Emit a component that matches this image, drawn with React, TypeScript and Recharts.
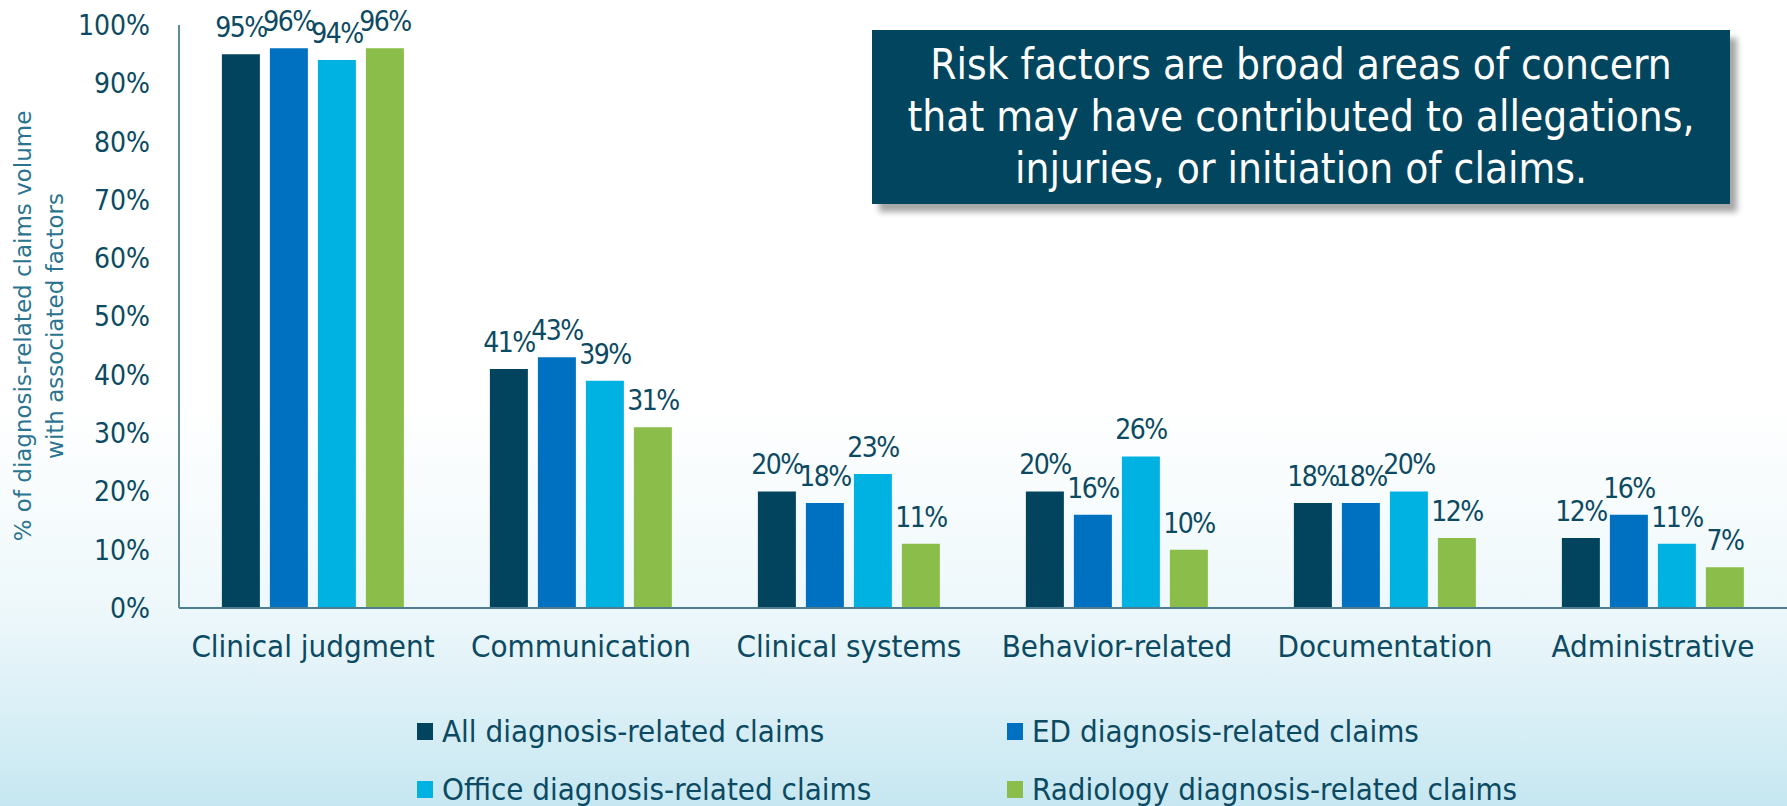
import { BarChart, Bar, XAxis, YAxis, LabelList } from "recharts";

const CATEGORIES = [
  "Clinical judgment",
  "Communication",
  "Clinical systems",
  "Behavior-related",
  "Documentation",
  "Administrative",
];

const ALL_CLAIMS = [95, 41, 20, 20, 18, 12];
const ED_CLAIMS = [96, 43, 18, 16, 18, 16];
const OFFICE_CLAIMS = [94, 39, 23, 26, 20, 11];
const RADIOLOGY_CLAIMS = [96, 31, 11, 10, 12, 7];

const Y_TICKS = [0, 10, 20, 30, 40, 50, 60, 70, 80, 90, 100];

const SERIES = [
  { key: "all", name: "All diagnosis-related claims", color: "#02445D", values: ALL_CLAIMS },
  { key: "ed", name: "ED diagnosis-related claims", color: "#0071C1", values: ED_CLAIMS },
  { key: "office", name: "Office diagnosis-related claims", color: "#00B2E2", values: OFFICE_CLAIMS },
  { key: "radiology", name: "Radiology diagnosis-related claims", color: "#8BBD4A", values: RADIOLOGY_CLAIMS },
];

const CALLOUT = [
  "Risk factors are broad areas of concern",
  "that may have contributed to allegations,",
  "injuries, or initiation of claims.",
];

const data = CATEGORIES.map((name, i) => {
  const row: Record<string, string | number> = { name };
  SERIES.forEach((s) => (row[s.key] = s.values[i]));
  return row;
});

const FONT = "'DejaVu Sans Condensed', 'DejaVu Sans', sans-serif";
const TEXT = "#0B4A62";

// two-line rotated axis title
const YTitle = () => (
  <g fontSize={23} fontFamily="'DejaVu Sans', sans-serif" fill="#2B7490">
    <text transform="translate(23, 326) rotate(-90)" textAnchor="middle" dominantBaseline="central">
      % of diagnosis-related claims volume
    </text>
    <text transform="translate(55, 326) rotate(-90)" textAnchor="middle" dominantBaseline="central">
      with associated factors
    </text>
  </g>
);

export default function App() {
  return (
    <div
      style={{
        position: "fixed",
        left: 0,
        top: 0,
        width: 1787,
        height: 806,
        overflow: "hidden",
        fontFamily: FONT,
        background:
          "linear-gradient(to bottom, #ffffff 0%, #ffffff 50%, #eef8fb 75%, #dcf0f7 87%, #c6e7f1 100%)",
      }}
    >
      <BarChart
        width={1787}
        height={806}
        data={data}
        margin={{ top: 25, right: 0, bottom: 138, left: 0 }}
        barCategoryGap="16%"
        barGap={10}
      >
        <XAxis
          dataKey="name"
          height={60}
          axisLine={{ stroke: "#4F7D90", strokeWidth: 2 }}
          tickLine={false}
          tickSize={0}
          tickMargin={27}
          tick={{ fill: TEXT, fontSize: 31, fontFamily: FONT }}
        />
        <YAxis
          width={179}
          domain={[0, 100]}
          ticks={Y_TICKS}
          tickFormatter={(v: number) => `${v}%`}
          axisLine={{ stroke: "#5F8A9B", strokeWidth: 2 }}
          tickLine={false}
          tickSize={0}
          tickMargin={29}
          tick={{ fill: TEXT, fontSize: 28, fontFamily: FONT }}
          label={{ content: () => <YTitle /> }}
        />
        {SERIES.map((s) => (
          <Bar key={s.key} dataKey={s.key} name={s.name} fill={s.color} isAnimationActive={false}>
            <LabelList
              dataKey={s.key}
              position="top"
              offset={17}
              formatter={(v: number) => `${v}%`}
              style={{ fill: TEXT, fontSize: 28, fontFamily: FONT, letterSpacing: -1.5 }}
            />
          </Bar>
        ))}
      </BarChart>

      <div
        style={{
          position: "absolute",
          left: 872,
          top: 30,
          width: 858,
          height: 174,
          background: "#02455E",
          boxShadow: "7px 8px 6px rgba(0,0,0,0.35)",
          color: "#ffffff",
          fontSize: 42,
          lineHeight: "52px",
          textAlign: "center",
          display: "flex",
          flexDirection: "column",
          justifyContent: "center",
        }}
      >
        {CALLOUT.map((line) => (
          <div key={line}>{line}</div>
        ))}
      </div>

      <div
        style={{
          position: "absolute",
          left: 417,
          top: 715,
          display: "grid",
          gridTemplateColumns: "590px 590px",
          rowGap: 26,
          color: TEXT,
          fontSize: 31,
          lineHeight: "32px",
        }}
      >
        {SERIES.map((s) => (
          <div key={s.key} style={{ display: "flex", alignItems: "center", height: 32 }}>
            <span
              style={{ width: 16, height: 17, background: s.color, marginRight: 9, display: "inline-block" }}
            />
            {s.name}
          </div>
        ))}
      </div>
    </div>
  );
}
